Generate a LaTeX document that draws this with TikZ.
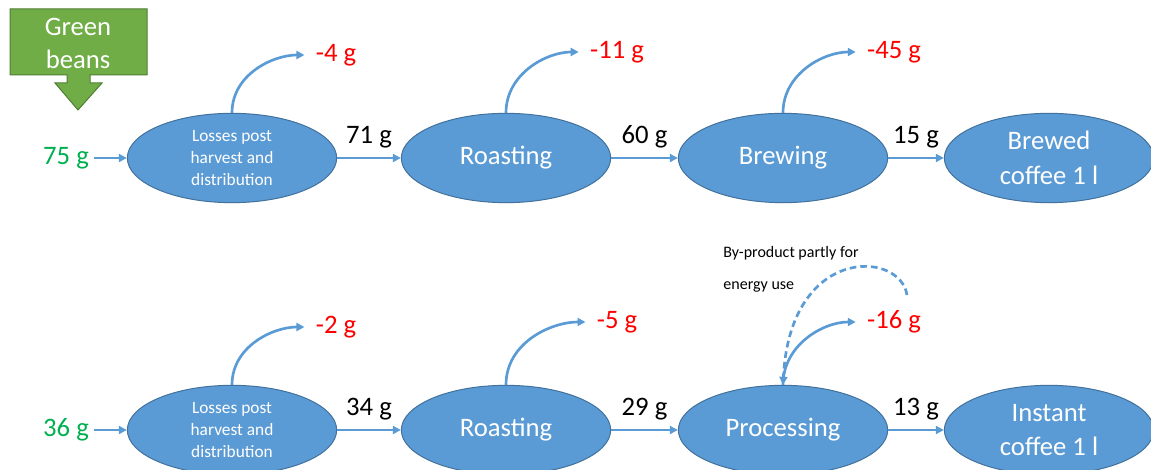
\documentclass[tikz,border=0pt]{standalone}
\usepackage{fontspec}
\setmainfont{Carlito}
\usetikzlibrary{shapes.geometric}
\usetikzlibrary{arrows.meta}
\definecolor{myblue}{HTML}{5B9BD5}
\definecolor{myborder}{HTML}{41719C}
\definecolor{mygreen}{HTML}{70AD47}
\definecolor{mygreenborder}{HTML}{507E32}
\definecolor{mytext}{HTML}{00B050}
\definecolor{myred}{HTML}{FF0000}

\begin{document}
\begin{tikzpicture}[x=0.75pt,y=0.75pt,
		stage/.style={ellipse, fill=myblue, draw=myborder, line width=0.75pt, text=white,
			minimum width=157pt, minimum height=67pt, inner sep=0pt, align=center,
			font=\fontsize{20}{26}\selectfont},
		smallstage/.style={stage, font=\fontsize{13}{16.5}\selectfont},
		flow/.style={draw=myblue, line width=2pt, -{Triangle[length=6pt,width=6pt]}},
		amount/.style={font=\fontsize{20}{23}\selectfont},
		loss/.style={amount, text=myred},
		input/.style={amount, text=mytext}]
		\useasboundingbox (0,0) rectangle (1151,470);
		
		% Green beans arrow
		\draw[fill=mygreen, draw=mygreenborder, line width=0.75pt]
			(10,461) -- (147,461) -- (147,395) -- (90,395) -- (90,387) -- (102,387)
			-- (78,360) -- (55,387) -- (67,387) -- (67,395) -- (10,395) -- cycle;
		\node[align=center, text=white, font=\fontsize{20}{24.75}\selectfont] (beans) at (78,427) {Green\\beans};
		
		% Brewed coffee
		\node[smallstage] (losstop) at (232,312) {Losses post\\harvest and\\distribution};
		\node[stage] (roasttop) at (506,312) {Roasting};
		\node[stage] (brew) at (783,312) {Brewing};
		\node[stage] (brewed) at (1049,312) {Brewed\\coffee 1 l};
		\node[input] (intop) at (66,312) {75 g};
		\node[loss] (l1) at (336,415) {-4 g};
		\node[loss] (l2) at (617,418) {-11 g};
		\node[loss] (l3) at (894,418) {-45 g};
		
		\draw[flow] (intop) -- (losstop);
		\draw[flow] (losstop) -- node[amount, midway, above=3pt] {71 g} (roasttop);
		\draw[flow] (roasttop) -- node[amount, midway, above=3pt] {60 g} (brew);
		\draw[flow] (brew) -- node[amount, midway, above=3pt] {15 g} (brewed);
		\draw[flow, shorten >=5pt] (losstop.north) to[out=90, in=180] (l1.west);
		\draw[flow, shorten >=5pt] (roasttop.north) to[out=90, in=180] (l2.west);
		\draw[flow, shorten >=5pt] (brew.north) to[out=90, in=180] (l3.west);
		
		% Instant coffee
		\node[smallstage] (lossbot) at (232,40) {Losses post\\harvest and\\distribution};
		\node[stage] (roastbot) at (506,40) {Roasting};
		\node[stage] (process) at (783,40) {Processing};
		\node[stage] (instant) at (1049,40) {Instant\\coffee 1 l};
		\node[input] (inbot) at (66,40) {36 g};
		\node[loss] (l4) at (336,143) {-2 g};
		\node[loss] (l5) at (617,148) {-5 g};
		\node[loss] (l6) at (894,148) {-16 g};
		
		\draw[flow] (inbot) -- (lossbot);
		\draw[flow] (lossbot) -- node[amount, midway, above=3pt] {34 g} (roastbot);
		\draw[flow] (roastbot) -- node[amount, midway, above=3pt] {29 g} (process);
		\draw[flow] (process) -- node[amount, midway, above=3pt] {13 g} (instant);
		\draw[flow, shorten >=5pt] (lossbot.north) to[out=90, in=180] (l4.west);
		\draw[flow, shorten >=5pt] (roastbot.north) to[out=90, in=180] (l5.west);
		\draw[flow, shorten >=5pt] (process.north) to[out=90, in=180] (l6.west);
		
		% By-product
		\node[align=left, font=\fontsize{12}{24}\selectfont] (byprod) at (791,201) {By-product partly for\\energy use};
		\coordinate (bystart) at (907,175);
		\draw[flow, dash pattern=on 5pt off 3pt] (bystart) .. controls (900,220) and (790,225) .. (process.north);
	\end{tikzpicture}
\end{document}
